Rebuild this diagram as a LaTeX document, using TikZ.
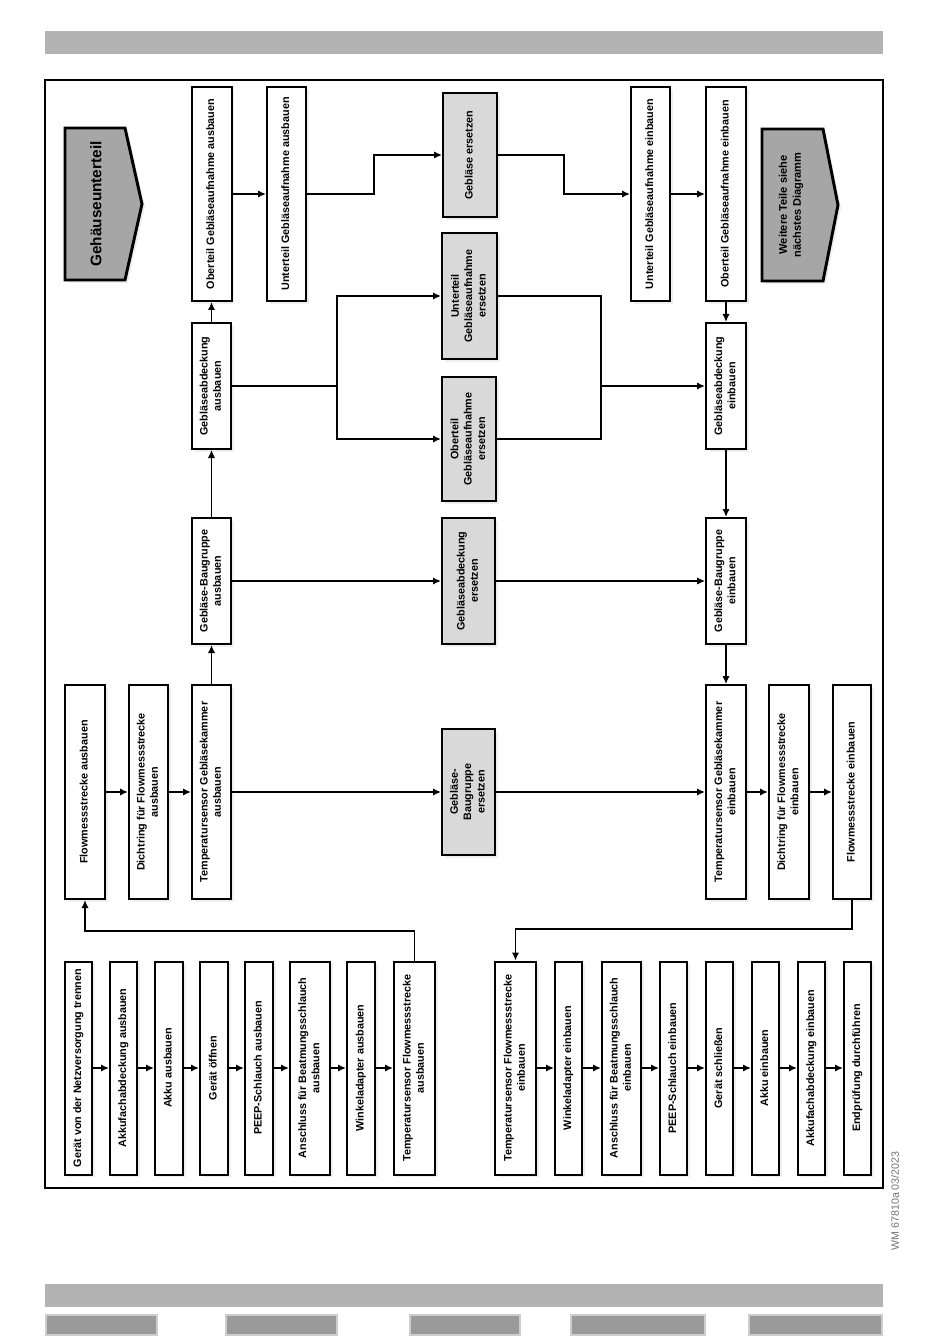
\documentclass[tikz,border=0pt]{standalone}
\usepackage{fontspec}
\setmainfont{Liberation Sans}
\usepackage{graphicx}
\usetikzlibrary{arrows.meta,shadows}
\definecolor{boxgray}{HTML}{D9D9D9}
\definecolor{pentgray}{HTML}{A6A6A6}
\definecolor{bargray}{HTML}{B3B3B3}
\definecolor{tabgray}{HTML}{9A9A9A}
\definecolor{tabedge}{HTML}{CDCDCD}
\newcommand\rtx[1]{\rotatebox{90}{\begin{tabular}{@{}c@{}}#1\end{tabular}}}
\begin{document}
\begin{tikzpicture}[x=0.75pt,y=-0.75pt,
  sz/.style 2 args={minimum width=#1*0.75pt, minimum height=#2*0.75pt},
  stepbox/.style={draw, line width=1.5pt, fill=white, inner sep=0pt,
    font=\fontsize{8.1}{10}\selectfont\bfseries,
    drop shadow={shadow xshift=2.2pt, shadow yshift=-2.2pt, opacity=0.12}},
  graybox/.style={stepbox, fill=boxgray},
  pent/.style={draw, line width=2.2pt, fill=pentgray, line join=miter,
    drop shadow={shadow xshift=2.2pt, shadow yshift=-2.2pt, opacity=0.12}},
  arr/.style={line width=1.3pt, line join=miter, -{Latex[length=6pt,width=5.5pt]}},
  tarr/.style={line width=0.9pt, line join=miter, -{Latex[length=6pt,width=5.5pt]}},
  ln/.style={line width=1.3pt, line join=miter},
  bar/.style={fill=bargray, draw=none},
  tab/.style={fill=tabgray, draw=tabedge, line width=1.2pt}
]
\useasboundingbox (0,0) rectangle (950,1344);
\fill[white] (0,0) rectangle (950,1344);

% page decorations
\path[bar] (45,31) rectangle (883,54);
\path[bar] (45,1284) rectangle (883,1307);
\path[tab] (46,1315) rectangle (157,1335);
\path[tab] (226,1315) rectangle (337,1335);
\path[tab] (410,1315) rectangle (520,1335);
\path[tab] (571,1315) rectangle (705,1335);
\path[tab] (749,1315) rectangle (882,1335);
\draw[line width=0.8pt] (45,80) rectangle (883,1188);
\node[text=black!55, font=\fontsize{8}{9}\selectfont] (wm) at (895,1201) {\rotatebox{90}{WM 67810a 03/2023}};

% pentagons
\draw[pent] (65,128) -- (125,128) -- (142,204) -- (125,280) -- (65,280) -- cycle;
\node (title) at (96,204) {\rotatebox{90}{\fontsize{11.5}{13}\selectfont\bfseries Gehäuseunterteil}};
\draw[pent] (762,129) -- (823,129) -- (838,205) -- (823,281) -- (762,281) -- cycle;
\node[font=\fontsize{8.3}{10.5}\selectfont\bfseries] (next) at (791,205) {\rtx{Weitere Teile siehe\\nächstes Diagramm}};

% lower left row
\node[stepbox, sz={27}{213}] (a1) at (78.5,1068) {\rtx{Gerät von der Netzversorgung trennen}};
\node[stepbox, sz={27}{213}] (a2) at (123.5,1068) {\rtx{Akkufachabdeckung ausbauen}};
\node[stepbox, sz={28}{213}] (a3) at (169,1068) {\rtx{Akku ausbauen}};
\node[stepbox, sz={28}{213}] (a4) at (214,1068) {\rtx{Gerät öffnen}};
\node[stepbox, sz={28}{213}] (a5) at (259,1068) {\rtx{PEEP-Schlauch ausbauen}};
\node[stepbox, sz={40}{213}] (a6) at (310,1068) {\rtx{Anschluss für Beatmungsschlauch\\ausbauen}};
\node[stepbox, sz={28}{213}] (a7) at (361,1068) {\rtx{Winkeladapter ausbauen}};
\node[stepbox, sz={41}{213}] (a8) at (414.5,1068) {\rtx{Temperatursensor Flowmessstrecke\\ausbauen}};

% lower right row
\node[stepbox, sz={41}{213}] (e1) at (515.5,1068) {\rtx{Temperatursensor Flowmessstrecke\\einbauen}};
\node[stepbox, sz={27}{213}] (e2) at (568.5,1068) {\rtx{Winkeladapter einbauen}};
\node[stepbox, sz={39}{213}] (e3) at (621.5,1068) {\rtx{Anschluss für Beatmungsschlauch\\einbauen}};
\node[stepbox, sz={27}{213}] (e4) at (673.5,1068) {\rtx{PEEP-Schlauch einbauen}};
\node[stepbox, sz={27}{213}] (e5) at (719.5,1068) {\rtx{Gerät schließen}};
\node[stepbox, sz={27}{213}] (e6) at (765.5,1068) {\rtx{Akku einbauen}};
\node[stepbox, sz={27}{213}] (e7) at (811.5,1068) {\rtx{Akkufachabdeckung einbauen}};
\node[stepbox, sz={27}{213}] (e8) at (857.5,1068) {\rtx{Endprüfung durchführen}};

% second row
\node[stepbox, sz={40}{214}] (b1) at (85,792) {\rtx{Flowmessstrecke ausbauen}};
\node[stepbox, sz={39}{214}] (b2) at (148.5,792) {\rtx{Dichtring für Flowmessstrecke\\ausbauen}};
\node[stepbox, sz={39}{214}] (b3) at (211.5,792) {\rtx{Temperatursensor Gebläsekammer\\ausbauen}};
\node[graybox, sz={53}{126}] (g1) at (468.5,792) {\rtx{Gebläse-\\Baugruppe\\ersetzen}};
\node[stepbox, sz={40}{214}] (c1) at (726,792) {\rtx{Temperatursensor Gebläsekammer\\einbauen}};
\node[stepbox, sz={40}{214}] (c2) at (789,792) {\rtx{Dichtring für Flowmessstrecke\\einbauen}};
\node[stepbox, sz={38}{214}] (c3) at (852,792) {\rtx{Flowmessstrecke einbauen}};

% third row
\node[stepbox, sz={39}{126}] (b4) at (211.5,581) {\rtx{Gebläse-Baugruppe\\ausbauen}};
\node[graybox, sz={53}{126}] (g2) at (468.5,581) {\rtx{Gebläseabdeckung\\ersetzen}};
\node[stepbox, sz={40}{126}] (c4) at (726,581) {\rtx{Gebläse-Baugruppe\\einbauen}};

% fourth row
\node[stepbox, sz={39}{126}] (b5) at (211.5,386) {\rtx{Gebläseabdeckung\\ausbauen}};
\node[graybox, sz={54}{124}] (g3) at (469,439) {\rtx{Oberteil\\Gebläseaufnahme\\ersetzen}};
\node[graybox, sz={55}{126}] (g4) at (469.5,296) {\rtx{Unterteil\\Gebläseaufnahme\\ersetzen}};
\node[stepbox, sz={40}{126}] (c5) at (726,386) {\rtx{Gebläseabdeckung\\einbauen}};

% top row
\node[stepbox, sz={40}{214}] (b6) at (211.5,194) {\rtx{Oberteil Gebläseaufnahme ausbauen}};
\node[stepbox, sz={39}{214}] (b7) at (286.5,194) {\rtx{Unterteil Gebläseaufnahme ausbauen}};
\node[graybox, sz={54}{124}] (g5) at (470,155) {\rtx{Gebläse ersetzen}};
\node[stepbox, sz={39}{214}] (c6) at (650.5,194) {\rtx{Unterteil Gebläseaufnahme einbauen}};
\node[stepbox, sz={40}{214}] (c7) at (726,194) {\rtx{Oberteil Gebläseaufnahme einbauen}};

% helper coordinates
\coordinate (k1) at (414.5,931);
\coordinate (k2) at (852,929);
\coordinate (k3) at (374,194);
\coordinate (k4) at (564,155);
\coordinate (k5) at (337,386);
\coordinate (k6) at (601,386);

% straight connectors
\foreach \p/\q in {a1/a2,a2/a3,a3/a4,a4/a5,a5/a6,a6/a7,a7/a8,e1/e2,e2/e3,e3/e4,e4/e5,e5/e6,e6/e7,e7/e8,b1/b2,b2/b3,b3/g1,g1/c1,c1/c2,c2/c3,b6/b7,c6/c7}
  \draw[arr] (\p) -- (\q);
\draw[arr] (a8.north) -- (k1) -| (b1.south);
\draw[arr] (c3.south) -- (k2) -| (e1.north);

% vertical chains
\draw[arr] (b3.north) -- (b4.south);
\draw[tarr] (b4.north) -- (b5.south);
\draw[arr] (b5.north) -- (b6.south);
\draw[arr] (c7.south) -- (c5.north);
\draw[arr] (c5.south) -- (c4.north);
\draw[tarr] (c4.south) -- (c1.north);

% row connections
\draw[arr] (b4) -- (g2);
\draw[tarr] (g2) -- (c4);
\draw[arr] (b7) -- (k3) |- (g5);
\draw[arr] (g5) -- (k4) |- (c6);
\draw[ln] (b5) -- (k5);
\draw[arr] (k5) |- (g4);
\draw[arr] (k5) |- (g3);
\draw[ln] (g4) -| (k6);
\draw[ln] (g3) -| (k6);
\draw[arr] (k6) -- (c5);
\end{tikzpicture}
\end{document}
